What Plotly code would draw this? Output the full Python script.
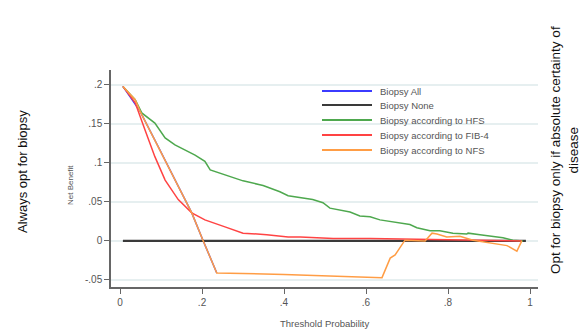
import plotly.graph_objects as go

# ---- data ----
all_x = [0.007, 0.049, 0.093, 0.134, 0.175, 0.203, 0.236]
all_y = [0.198, 0.166, 0.121, 0.078, 0.036, 0.0, -0.041]

none_x = [0.007, 0.99]
none_y = [0.0, 0.0]

hfs_x = [0.007, 0.037, 0.053, 0.085, 0.11, 0.134, 0.183, 0.207, 0.22, 0.256, 0.276, 0.30,
         0.341, 0.349, 0.39, 0.41, 0.47, 0.495, 0.512, 0.561, 0.585, 0.61, 0.634, 0.666,
         0.707, 0.724, 0.756, 0.78, 0.812, 0.846, 0.849, 0.878, 0.91, 0.934, 0.958, 0.983]
hfs_y = [0.198, 0.181, 0.164, 0.151, 0.132, 0.123, 0.110, 0.102, 0.091, 0.085, 0.082, 0.077,
         0.072, 0.071, 0.063, 0.058, 0.053, 0.049, 0.042, 0.037, 0.032, 0.031, 0.027, 0.024,
         0.021, 0.017, 0.013, 0.013, 0.010, 0.009, 0.010, 0.008, 0.006, 0.004, 0.001, 0.0]

fib4_x = [0.007, 0.037, 0.061, 0.085, 0.11, 0.142, 0.175, 0.207, 0.256, 0.30, 0.358,
          0.41, 0.44, 0.52, 0.61, 0.75, 0.90, 0.98]
fib4_y = [0.198, 0.177, 0.142, 0.108, 0.078, 0.053, 0.036, 0.027, 0.018, 0.010, 0.008,
          0.005, 0.005, 0.003, 0.003, 0.002, 0.001, 0.0]

nfs_x = [0.007, 0.037, 0.049, 0.093, 0.134, 0.175, 0.203, 0.236, 0.40, 0.561, 0.639, 0.659,
         0.671, 0.695, 0.744, 0.761, 0.773, 0.797, 0.829, 0.861, 0.91, 0.944, 0.968, 0.98]
nfs_y = [0.198, 0.181, 0.166, 0.121, 0.078, 0.036, 0.0, -0.041, -0.043, -0.046, -0.047, -0.022,
         -0.018, 0.001, 0.0, 0.010, 0.009, 0.005, 0.006, 0.001, -0.003, -0.006, -0.013, 0.0]

names = ["Biopsy All", "Biopsy None", "Biopsy according to HFS",
         "Biopsy according to FIB-4", "Biopsy according to NFS"]
colors = ["#3b3bff", "#3a3a3a", "#4ea84e", "#ff4343", "#ff9d45"]
widths = [1.5, 2.2, 1.5, 1.5, 1.5]

x_ticks = [0, 0.2, 0.4, 0.6, 0.8, 1.0]
x_labels = ["0", ".2", ".4", ".6", ".8", "1"]
y_ticks = [-0.05, 0, 0.05, 0.1, 0.15, 0.2]
y_labels = ["-.05", "0", ".05", ".1", ".15", ".2"]

# ---- figure ----
W, H = 583, 330
L, R, T, B = 111, 45, 70, 43
pw, ph = W - L - R, H - T - B

def px_x(p):
    return (p - L) / pw

def px_y(p):
    return (H - B - p) / ph

fig = go.Figure()
series = [(all_x, all_y), (none_x, none_y), (hfs_x, hfs_y), (fib4_x, fib4_y), (nfs_x, nfs_y)]
for i in range(5):
    xs, ys = series[i]
    fig.add_trace(go.Scatter(x=xs, y=ys, mode="lines", name=names[i],
                             line=dict(color=colors[i], width=widths[i]),
                             showlegend=False))

# compact legend (line samples + labels)
shapes = []
annotations = []
row_y = [91, 105, 120, 135, 150]
for i, name in enumerate(names):
    yy = px_y(row_y[i])
    shapes.append(dict(type="line", xref="paper", yref="paper",
                       x0=px_x(322), x1=px_x(372), y0=yy, y1=yy,
                       line=dict(color=colors[i], width=2)))
    annotations.append(dict(text=name, xref="paper", yref="paper",
                            x=px_x(378), y=yy, xanchor="left", yanchor="middle",
                            showarrow=False,
                            font=dict(family="Liberation Sans", size=9.5, color="#555")))

annotations += [
    dict(text="Net Benefit", xref="paper", yref="paper", x=px_x(70), y=px_y(185),
         textangle=-90, showarrow=False, xanchor="center", yanchor="middle",
         font=dict(family="Liberation Sans", size=8, color="#555")),
    dict(text="Threshold Probability", xref="paper", yref="paper", x=px_x(324), y=px_y(323),
         showarrow=False, xanchor="center", yanchor="middle",
         font=dict(family="Liberation Sans", size=9.5, color="#555")),
    dict(text="Always opt for biopsy", xref="paper", yref="paper", x=px_x(22), y=px_y(172),
         textangle=-90, showarrow=False, xanchor="center", yanchor="middle",
         font=dict(family="Liberation Sans", size=13, color="#111")),
    dict(text="Opt for biopsy only if absolute certainty of<br>disease", xref="paper", yref="paper",
         x=px_x(564), y=px_y(150), textangle=-90, showarrow=False,
         xanchor="center", yanchor="middle", align="center",
         font=dict(family="Liberation Sans", size=13.5, color="#111")),
]

fig.update_layout(
    width=W, height=H,
    margin=dict(l=L, r=R, t=T, b=B, pad=0),
    paper_bgcolor="white", plot_bgcolor="white",
    showlegend=False,
    shapes=shapes, annotations=annotations,
    xaxis=dict(range=[-0.022, 1.0195], tickvals=x_ticks, ticktext=x_labels,
               showgrid=False, zeroline=False, showline=True, linecolor="#666", linewidth=1.5,
               ticks="outside", ticklen=5, tickcolor="#666",
               tickfont=dict(family="Liberation Sans", size=10, color="#555")),
    yaxis=dict(range=[-0.059, 0.219], tickvals=y_ticks, ticktext=y_labels,
               showgrid=True, gridcolor="#e6eff0", gridwidth=1.5, zeroline=False,
               showline=True, linecolor="#666", linewidth=1.5,
               ticks="outside", ticklen=5, tickcolor="#666",
               tickfont=dict(family="Liberation Sans", size=10, color="#555")),
)

fig.write_html("out.html")
